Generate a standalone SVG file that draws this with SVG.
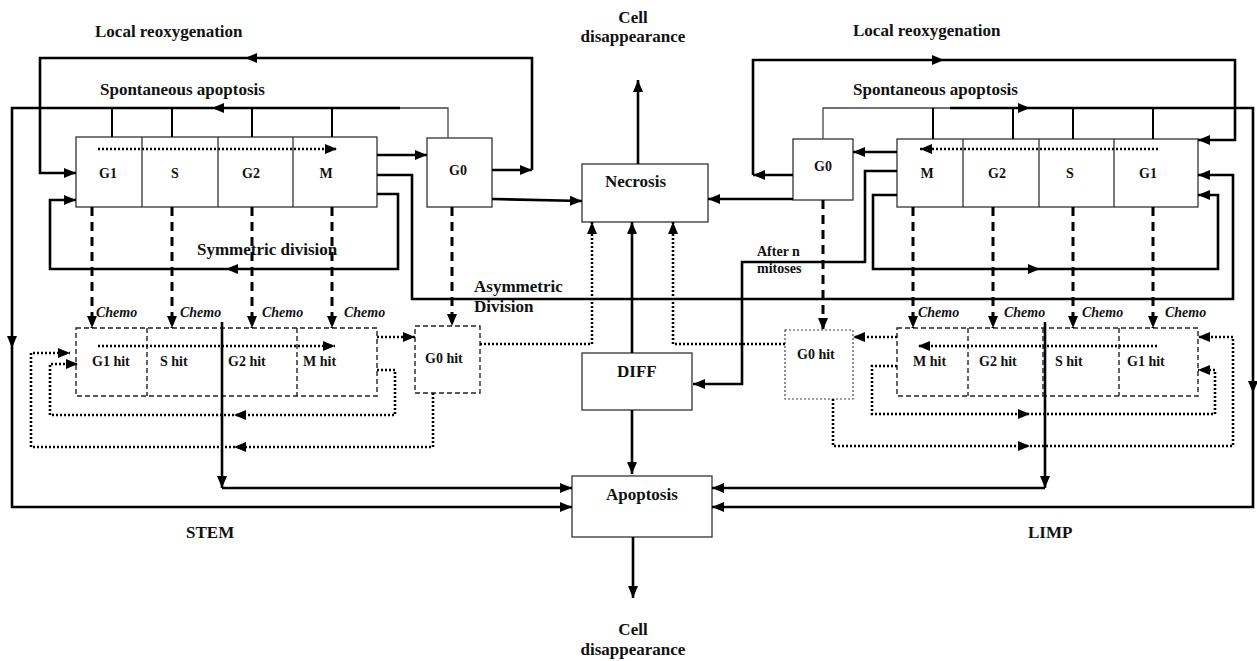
<svg xmlns="http://www.w3.org/2000/svg" xmlns:xlink="http://www.w3.org/1999/xlink" width="1257" height="661" viewBox="0 0 1257 661">
<style>
text{font-family:"Liberation Serif","Times New Roman",serif;font-weight:bold;fill:#111}
.big{font-size:17px}
.mid{font-size:14px}
.it{font-size:14px;font-style:italic}
.box{fill:#fff;stroke:#333;stroke-width:1.3}
.div{stroke:#333;stroke-width:1.3;fill:none}
.hbox{fill:#fff;stroke:#222;stroke-width:1.4;stroke-dasharray:5 3}
.hdiv{stroke:#222;stroke-width:1.4;stroke-dasharray:5 3;fill:none}
.gbox{fill:#fff;stroke:#444;stroke-width:1.2;stroke-dasharray:2 2}
.ln{fill:none;stroke:#000;stroke-width:2.6}
.thin{fill:none;stroke:#444;stroke-width:1.3}
.tick{fill:none;stroke:#000;stroke-width:2}
.dash{fill:none;stroke:#000;stroke-width:3;stroke-dasharray:9 6}
.dot{fill:none;stroke:#000;stroke-width:2.6;stroke-dasharray:2 2}
.ah{fill:#000}
</style>
<defs>
<marker id="arr" viewBox="0 0 12 10" refX="12" refY="5" markerWidth="12" markerHeight="10" markerUnits="userSpaceOnUse" orient="auto"><path d="M0,0 L12,5 L0,10 z" fill="#000"/></marker>
<path id="aR" d="M0,0 L-12,-5 L-12,5 z" class="ah"/>
</defs>

<g id="labels">
<text class="big" x="95" y="37">Local reoxygenation</text>
<text class="big" x="100" y="95">Spontaneous apoptosis</text>
<text class="big" x="853" y="36">Local reoxygenation</text>
<text class="big" x="853" y="95">Spontaneous apoptosis</text>
<text class="big" x="633" y="23" text-anchor="middle">Cell</text>
<text class="big" x="633" y="42" text-anchor="middle">disappearance</text>
<text class="big" x="633" y="635" text-anchor="middle">Cell</text>
<text class="big" x="633" y="655" text-anchor="middle">disappearance</text>
<text class="big" x="197" y="255">Symmetric division</text>
<text class="big" x="474" y="292">Asymmetric</text>
<text class="big" x="474" y="312">Division</text>
<text class="mid" x="757" y="256">After n</text>
<text class="mid" x="757" y="273">mitoses</text>
<text class="big" x="186" y="538">STEM</text>
<text class="big" x="1028" y="538">LIMP</text>
<text class="it" x="96" y="317">Chemo</text>
<text class="it" x="180" y="317">Chemo</text>
<text class="it" x="262" y="317">Chemo</text>
<text class="it" x="344" y="317">Chemo</text>
<text class="it" x="918" y="317">Chemo</text>
<text class="it" x="1004" y="317">Chemo</text>
<text class="it" x="1082" y="317">Chemo</text>
<text class="it" x="1165" y="317">Chemo</text>
</g>

<g id="stem-cycle">
<rect class="box" x="76" y="137" width="301" height="70"/>
<path class="div" d="M142,137 V207 M218,137 V207 M293,137 V207"/>
<text class="mid" x="108" y="178" text-anchor="middle">G1</text>
<text class="mid" x="175" y="178" text-anchor="middle">S</text>
<text class="mid" x="251" y="178" text-anchor="middle">G2</text>
<text class="mid" x="326" y="178" text-anchor="middle">M</text>
</g>
<g id="stem-g0">
<rect class="box" x="427" y="138" width="65" height="69"/>
<text class="mid" x="458" y="175" text-anchor="middle">G0</text>
</g>
<g id="stem-hit">
<rect class="hbox" x="76" y="328" width="301" height="68"/>
<path class="hdiv" d="M147,328 V396 M222,328 V396 M297,328 V396"/>
<text class="mid" x="92" y="366">G1 hit</text>
<text class="mid" x="160" y="366">S hit</text>
<text class="mid" x="228" y="366">G2 hit</text>
<text class="mid" x="303" y="366">M hit</text>
</g>
<g id="stem-g0hit">
<rect class="hbox" x="415" y="326" width="65" height="67"/>
<text class="mid" x="425" y="363">G0 hit</text>
</g>

<g id="necrosis">
<rect class="box" x="582" y="164" width="126" height="58"/>
<text class="big" x="605" y="187">Necrosis</text>
</g>
<g id="diff">
<rect class="box" x="582" y="353" width="110" height="57"/>
<text class="big" x="617" y="377">DIFF</text>
</g>
<g id="apoptosis">
<rect class="box" x="572" y="476" width="140" height="61"/>
<text class="big" x="606" y="500">Apoptosis</text>
</g>

<g id="limp-cycle">
<rect class="box" x="897" y="139" width="301" height="68"/>
<path class="div" d="M963,139 V207 M1039,139 V207 M1114,139 V207"/>
<text class="mid" x="927" y="178" text-anchor="middle">M</text>
<text class="mid" x="997" y="178" text-anchor="middle">G2</text>
<text class="mid" x="1070" y="178" text-anchor="middle">S</text>
<text class="mid" x="1148" y="178" text-anchor="middle">G1</text>
</g>
<g id="limp-g0">
<rect class="box" x="793" y="139" width="60" height="61"/>
<text class="mid" x="823" y="171" text-anchor="middle">G0</text>
</g>
<g id="limp-hit">
<rect class="hbox" x="897" y="328" width="301" height="68"/>
<path class="hdiv" d="M968,328 V396 M1043,328 V396 M1119,328 V396"/>
<text class="mid" x="913" y="366">M hit</text>
<text class="mid" x="979" y="366">G2 hit</text>
<text class="mid" x="1055" y="366">S hit</text>
<text class="mid" x="1127" y="366">G1 hit</text>
</g>
<g id="limp-g0hit">
<rect class="gbox" x="785" y="330" width="68" height="69"/>
<text class="mid" x="797" y="359">G0 hit</text>
</g>

<g id="connectors">
<!-- STEM -->
<path class="ln" d="M492,170 H532" marker-end="url(#arr)"/>
<path class="ln" d="M532,170 V58 H40 V173 H76" marker-end="url(#arr)"/>
<use href="#aR" transform="translate(245,58) rotate(180)"/>
<path class="thin" d="M448,138 V108 H400"/>
<path class="ln" d="M400,108 H12 V507 H572" marker-end="url(#arr)"/>
<use href="#aR" transform="translate(212,108) rotate(180)"/>
<use href="#aR" transform="translate(12,348) rotate(90)"/>
<path class="tick" d="M112,108 V137 M172,108 V137 M252,108 V137 M332,108 V137"/>
<path class="ln" d="M377,155 H427" marker-end="url(#arr)"/>
<path class="ln" d="M492,199 L582,201" marker-end="url(#arr)"/>
<path class="ln" d="M377,175 H412 V299 H1233 V175 H1198" marker-end="url(#arr)"/>
<path class="ln" d="M377,194 H398 V269 H50 V200 H76" marker-end="url(#arr)"/>
<use href="#aR" transform="translate(226,269) rotate(180)"/>
<path class="dash" d="M92,207 V328" marker-end="url(#arr)"/>
<path class="dash" d="M172,207 V328" marker-end="url(#arr)"/>
<path class="dash" d="M252,207 V328" marker-end="url(#arr)"/>
<path class="dash" d="M332,207 V328" marker-end="url(#arr)"/>
<path class="dash" d="M452,207 V326" marker-end="url(#arr)"/>
<path class="dot" d="M98,149 H337" marker-end="url(#arr)"/>
<path class="dot" d="M98,346 H335" marker-end="url(#arr)"/>
<path class="dot" d="M377,337 H415" marker-end="url(#arr)"/>
<path class="dot" d="M377,370 H395 V415 H50 V364 H78" marker-end="url(#arr)"/>
<use href="#aR" transform="translate(234,415) rotate(180)"/>
<path class="dot" d="M433,393 V447 H31 V353 H70" marker-end="url(#arr)"/>
<use href="#aR" transform="translate(234,447) rotate(180)"/>
<path class="ln" d="M222,322 V488" marker-end="url(#arr)"/>
<path class="ln" d="M222,488 H572" marker-end="url(#arr)"/>
<path class="dot" d="M480,344 H592 V222" marker-end="url(#arr)"/>
<!-- centre -->
<path class="ln" d="M638,164 V80" marker-end="url(#arr)"/>
<path class="ln" d="M632,353 V222" marker-end="url(#arr)"/>
<path class="ln" d="M632,410 V474" marker-end="url(#arr)"/>
<path class="ln" d="M633,537 V598" marker-end="url(#arr)"/>
<!-- LIMP -->
<path class="ln" d="M897,152 H853" marker-end="url(#arr)"/>
<path class="ln" d="M793,175 H753" marker-end="url(#arr)"/>
<path class="ln" d="M753,175 V60 H1235 V140 H1198" marker-end="url(#arr)"/>
<use href="#aR" transform="translate(944,60)"/>
<path class="thin" d="M823,139 V108 H950"/>
<path class="ln" d="M950,108 H1253 V507 H712" marker-end="url(#arr)"/>
<use href="#aR" transform="translate(1030,108)"/>
<use href="#aR" transform="translate(1253,393) rotate(90)"/>
<path class="tick" d="M933,108 V139 M1013,108 V139 M1073,108 V139 M1153,108 V139"/>
<path class="ln" d="M897,171 H865 V262 H742 V384 H693" marker-end="url(#arr)"/>
<path class="ln" d="M897,195 H873 V269 H1218 V195 H1198" marker-end="url(#arr)"/>
<use href="#aR" transform="translate(1040,269)"/>
<path class="dash" d="M913,207 V328" marker-end="url(#arr)"/>
<path class="dash" d="M993,207 V328" marker-end="url(#arr)"/>
<path class="dash" d="M1073,207 V328" marker-end="url(#arr)"/>
<path class="dash" d="M1153,207 V328" marker-end="url(#arr)"/>
<path class="dash" d="M823,200 V330" marker-end="url(#arr)"/>
<path class="dot" d="M1158,149 H920" marker-end="url(#arr)"/>
<path class="dot" d="M1157,346 H918" marker-end="url(#arr)"/>
<path class="dot" d="M897,337 H853" marker-end="url(#arr)"/>
<path class="dot" d="M897,366 H872 V414 H1215 V370 H1198" marker-end="url(#arr)"/>
<use href="#aR" transform="translate(1030,414)"/>
<path class="dot" d="M833,399 V446 H1233 V337 H1198" marker-end="url(#arr)"/>
<use href="#aR" transform="translate(1030,446)"/>
<path class="ln" d="M1045,322 V488" marker-end="url(#arr)"/>
<path class="ln" d="M1045,488 H712" marker-end="url(#arr)"/>
<path class="dot" d="M785,344 H673 V222" marker-end="url(#arr)"/>
<path class="ln" d="M793,199 H708" marker-end="url(#arr)"/>
</g>
</svg>
